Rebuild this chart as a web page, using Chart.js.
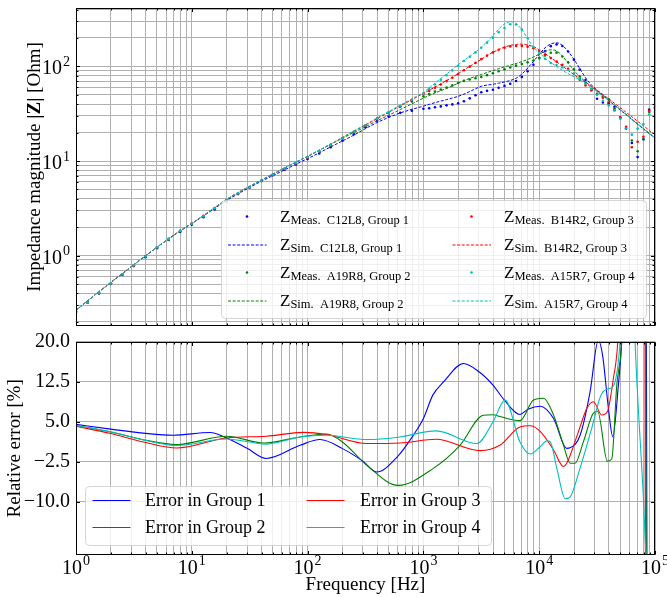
<!DOCTYPE html>
<html>
<head>
<meta charset="utf-8">
<script src="https://cdn.jsdelivr.net/npm/chart.js@4.4.1/dist/chart.umd.min.js"></script>
<style>
  html, body { margin: 0; padding: 0; background: #fff; }
  #wrap { position: relative; width: 667px; height: 597px; overflow: hidden; }
  #top { position: absolute; left: 0; top: 0; }
  #bot { position: absolute; left: 0; top: 330px; }
</style>
</head>
<body>
<div id="wrap">
  <canvas id="top" width="667" height="330"></canvas>
  <canvas id="bot" width="667" height="267"></canvas>
</div>
<script>
// frequency grid of the impedance sweep [Hz]
const freq = [1, 1.26, 1.58, 2, 2.51, 3.16, 3.98, 5.01, 6.31, 7.94,
  10, 12.6, 15.8, 20, 25.1, 31.6, 39.8, 50.1, 63.1, 79.4,
  100, 126, 158, 200, 251, 316, 398, 501, 631, 794,
  1000, 1122, 1259, 1413, 1585, 1778, 1995, 2239, 2512, 2818,
  3162, 3548, 3981, 4467, 5012, 5623, 6310, 7079, 7943, 8913,
  10000, 11220, 12589, 14125, 15849, 17783, 19953, 22387, 25119, 28184,
  31623, 35481, 39811, 44668, 50119, 56234, 63096, 70795, 79433, 89125,
  100000];

// |Z| [Ohm], group 1 (C12L8)
const zMeas1 = [0.253, 0.318, 0.398, 0.50, 0.623, 0.774, 0.96, 1.197, 1.46, 1.775,
  2.12, 2.54, 3.08, 3.74, 4.47, 5.25, 6.18, 7.08, 8.08, 9.17,
  10.47, 12.0, 14.0, 16.4, 19.2, 22.7, 26.6, 29.6, 32.3, 34.1,
  35.7, 36.2, 37.0, 37.8, 38.8, 39.7, 40.7, 42.9, 46.0, 49.6,
  53.3, 55.2, 56.8, 59.5, 62.3, 65.7, 70.1, 77.5, 89, 104,
  123, 145, 164, 171, 164.5, 144, 118, 93, 72, 56,
  45.5, 41.5, 40.7, 37.4, 28.6, 22, 15.5, 11, 17, 35,
  40];
const zSim1 = [0.265, 0.332, 0.415, 0.52, 0.645, 0.80, 0.99, 1.23, 1.50, 1.82,
  2.18, 2.62, 3.17, 3.82, 4.5, 5.25, 6.1, 7.0, 8.05, 9.25,
  10.6, 12.2, 14.1, 16.3, 18.8, 22, 25.5, 28.9, 32.2, 35.2,
  38, 39.7, 41.4, 43, 44.6, 46.3, 48.3, 51, 54.3, 58,
  61.8, 63.5, 64.8, 66.5, 68.5, 71, 75, 83, 96, 113,
  134, 157, 173, 178, 167, 144, 119, 95, 76, 64,
  56, 50, 44, 39, 34.5, 31, 27.5, 24.5, 21.8, 19.5,
  17.5];

// group 2 (A19R8)
const zMeas2 = [0.254, 0.319, 0.402, 0.506, 0.632, 0.788, 0.98, 1.221, 1.49, 1.815,
  2.17, 2.6, 3.15, 3.83, 4.52, 5.29, 6.18, 7.18, 8.28, 9.49,
  10.94, 12.65, 14.63, 17.2, 20.2, 23.7, 28.1, 32.6, 37.5, 42.6,
  48.3, 51.1, 54.2, 57.1, 59.8, 63.0, 66.9, 70.4, 72.8, 74.9,
  77.4, 80.9, 84.8, 89.0, 93.4, 97.4, 102, 106.3, 110.5, 115.3,
  122.6, 130.6, 139.5, 140, 127.5, 110.7, 93.5, 78, 66.9, 57.3,
  51.2, 48, 45, 35.9, 28.7, 22.3, 16.5, 12.7, 17, 33,
  36];
const zSim2 = [0.265, 0.332, 0.415, 0.52, 0.645, 0.80, 0.99, 1.23, 1.50, 1.83,
  2.19, 2.64, 3.22, 3.92, 4.62, 5.38, 6.25, 7.25, 8.4, 9.7,
  11.2, 13.0, 15.0, 17.4, 20.0, 23.0, 26.6, 30.5, 35, 40.2,
  46.2, 49.3, 52.3, 55.4, 58.6, 62.2, 66.5, 71, 74.7, 78.4,
  82.3, 86.3, 90.4, 94.7, 99, 103, 107.5, 112.5, 118.5, 126,
  135, 144, 150, 146, 129, 108, 91, 78, 69, 61,
  55, 49, 44, 39, 35, 31.2, 27.8, 24.8, 22.1, 19.7,
  17.6];

// group 3 (B14R2)
const zMeas3 = [0.254, 0.32, 0.402, 0.506, 0.631, 0.787, 0.98, 1.224, 1.5, 1.83,
  2.18, 2.63, 3.18, 3.85, 4.54, 5.28, 6.14, 7.11, 8.2, 9.46,
  10.86, 12.66, 14.8, 17.47, 20.4, 23.8, 27.75, 32.4, 37.8, 44.0,
  51.2, 55.1, 59.5, 64.5, 70.0, 76, 83, 91, 99.5, 109,
  119.5, 130.3, 140.8, 150.3, 158, 163, 164.5, 164.8, 161.9, 155.5,
  145.5, 134, 123, 112.5, 104, 94.5, 83.5, 72.5, 63, 56.5,
  51.5, 46.8, 42, 34.5, 29, 23, 14, 16, 18, 34,
  37];
const zSim3 = [0.265, 0.332, 0.415, 0.52, 0.645, 0.80, 0.99, 1.23, 1.50, 1.83,
  2.19, 2.65, 3.23, 3.93, 4.64, 5.4, 6.28, 7.28, 8.44, 9.75,
  11.2, 13.0, 15.1, 17.7, 20.6, 24.0, 28.0, 32.7, 38.2, 44.5,
  52, 56, 60.5, 65.5, 71, 77, 84, 92, 100, 109,
  119, 130, 141, 151, 160, 167, 171, 172, 169, 162,
  150, 137, 124, 112, 101, 91, 82, 74.5, 68, 62,
  56, 50.5, 45.5, 40.8, 36.6, 32.8, 29.4, 26.3, 23.6, 21.1,
  19];

// group 4 (A15R7)
const zMeas4 = [0.254, 0.319, 0.402, 0.506, 0.632, 0.788, 0.981, 1.222, 1.492, 1.82,
  2.17, 2.61, 3.17, 3.86, 4.55, 5.3, 6.2, 7.2, 8.28, 9.52,
  10.95, 12.7, 14.75, 17.3, 20.4, 23.9, 28.0, 32.6, 38.2, 44.4,
  51.4, 57.6, 64.4, 72.2, 80.6, 90.7, 101.8, 114, 126.6, 140.7,
  157.6, 178.5, 201.5, 230.6, 254.8, 279, 278, 245, 200, 160.8,
  139.6, 120.5, 108.7, 103.5, 97.4, 91.8, 83.5, 74.7, 66, 57.8,
  50.2, 43.4, 38.6, 34.3, 28, 22, 19, 22, 24.6, 31,
  33];
const zSim4 = [0.265, 0.332, 0.415, 0.52, 0.645, 0.80, 0.99, 1.23, 1.50, 1.83,
  2.19, 2.65, 3.23, 3.93, 4.64, 5.4, 6.28, 7.28, 8.44, 9.75,
  11.2, 13.0, 15.1, 17.7, 20.8, 24.3, 28.5, 33.3, 39.0, 45.5,
  53, 59.5, 66.5, 74.5, 83, 93, 104, 116, 128, 142,
  160, 183, 212, 248, 280, 297, 285, 245, 198, 160,
  140, 122, 110, 100, 91, 84, 78, 72, 66, 60,
  54, 48.5, 43.5, 39, 35, 31, 27.5, 24.5, 22, 19.5,
  17.5];

// relative error [%] per group
const errFreq1 = [1, 2, 4, 6.9, 14.4, 20, 30, 44, 86, 128, 200, 300, 395, 600, 818, 1000, 1205, 1500,
  2220, 3000, 3990, 5000, 6820, 8000, 10200, 13300, 17300, 18500, 22600, 27500, 32400, 35400,
  39600, 43200, 48300, 51600, 56000, 83500, 86000, 100000];
const err1 = [4.5, 3.6, 2.8, 2.46, 2.97, 1.95, 0.0, -1.9, 0.58, 1.65, -0.05, -2.4, -4.44, -1.5, 2.46, 5.6, 9.98, 12.5,
  15.9, 14.4, 11.86, 9.04, 6.35, 7.35, 7.9, 5.6, 0.0, 0.1, 2.5, 10.6, 20.3, 17.2,
  7.5, 2.2, 11.9, 20, 40, 40, -40, -40];

const errFreq2 = [1, 2, 4, 7.4, 20, 42, 86, 146, 200, 325, 607, 1210, 2070, 3290, 4000, 4570, 6820,
  8940, 10900, 13300, 16200, 18500, 20400, 24100, 29400, 32000, 38800, 42300, 46800, 51600,
  56000, 82500, 84500, 100000];
const err2 = [4.3, 3.08, 1.52, 0.71, 2.27, 1.0, 2.14, 2.7, 1.2, -3.2, -6.94, -3.8, 0.58, 6.2, 6.3, 5.97, 5.2,
  9.06, 9.4, 6.25, 0.6, -2.8, -2.8, 1.25, 6.6, 6.9, -2.4, -2.0, 11.9, 20,
  40, 40, -40, -40];

const errFreq3 = [1, 2, 4, 7.4, 20, 44, 92, 146, 325, 627, 1290, 3090, 4570, 6820, 8360, 10200, 13300,
  16200, 17300, 21800, 25800, 29400, 34700, 38800, 43700, 47700, 52000, 81500, 83000, 100000];
const err3 = [4.15, 2.77, 1.1, 0.07, 1.95, 2.27, 3.0, 2.6, 0.9, 1.0, 1.7, -0.42, 0.58, 4.02, 4.25, 3.2, -0.3,
  -3.4, -2.8, 3.1, 7.5, 8.75, 6.25, 6.9, 13.1, 20, 40, 40, -40, -40];

const errFreq4 = [1, 2, 4, 7.4, 20, 44, 86, 146, 325, 627, 1290, 2890, 3990, 5070, 6820, 8360, 10200,
  11640, 12440, 14200, 16750, 18200, 22500, 28400, 34700, 40900, 44300, 49900, 55000, 63000,
  67300, 79300, 83600, 100000];
const err4 = [4.3, 3.1, 1.5, 0.53, 1.76, 0.8, 2.14, 2.45, 1.65, 2.14, 3.27, 0.9, 4.96, 9.04, 1.2, -1.06, 0.3,
  1.4, 1.25, -3.75, -9.4, -9.25, -3.75, 3.75, 10.3, 11.25, 11.9, 20, 40, 40,
  20, -9.1, -20, -40];

const errTicks = [-10, -2.5, 5, 12.5, 20];
const zSubs = ["Meas.  C12L8, Group 1", "Sim.  C12L8, Group 1", "Meas.  A19R8, Group 2", "Sim.  A19R8, Group 2",
  "Meas.  B14R2, Group 3", "Sim.  B14R2, Group 3", "Meas.  A15R7, Group 4", "Sim.  A15R7, Group 4"];
const errLabels = ["Error in Group 1", "Error in Group 2", "Error in Group 3", "Error in Group 4"];

const FONT = '"Liberation Serif", "Times New Roman", serif';
const GRID = "#b0b0b0";
const COLORS = ["#0000ff", "#008000", "#ff0000", "#00bfbf"];
Chart.defaults.font.family = FONT;

function pairs(xs, ys) {
  return xs.map((x, i) => ({ x: x, y: ys[i] }));
}

function logGrid(lo, hi) {
  const out = [];
  for (let e = -1; e <= 5; e++) {
    for (let m = 1; m <= 9; m++) {
      const v = +(m * Math.pow(10, e)).toPrecision(6);
      if (v >= lo && v <= hi) out.push(v);
    }
  }
  return out;
}

const xGrid = logGrid(1, 1e5);
const yGridTop = logGrid(0.18, 415);

function isPow10(v) {
  const l = Math.log10(v);
  return Math.abs(l - Math.round(l)) < 1e-9;
}

function frame(ctx, a, xs, ys, xVals, yVals) {
  ctx.save();
  ctx.strokeStyle = "#000";
  ctx.lineWidth = 1;
  const L = Math.round(a.left) + 0.5, R = Math.round(a.right) - 0.5;
  const T = Math.round(a.top) + 0.5, B = Math.round(a.bottom) - 0.5;
  ctx.beginPath();
  xVals.forEach((v) => {
    const x = Math.round(xs.getPixelForValue(v)) + 0.5;
    const len = isPow10(v) ? 3.5 : 2;
    ctx.moveTo(x, B); ctx.lineTo(x, B - len);
    ctx.moveTo(x, T); ctx.lineTo(x, T + len);
  });
  yVals.forEach((v) => {
    const y = Math.round(ys.getPixelForValue(v)) + 0.5;
    const len = ys.type === "logarithmic" && !isPow10(v) ? 2 : 3.5;
    ctx.moveTo(L, y); ctx.lineTo(L + len, y);
    ctx.moveTo(R, y); ctx.lineTo(R - len, y);
  });
  ctx.stroke();
  ctx.strokeRect(L, T, R - L, B - T);
  ctx.restore();
}

function powLabel(ctx, e, x, y, align) {
  ctx.save();
  ctx.fillStyle = "#000";
  ctx.textBaseline = "alphabetic";
  ctx.textAlign = "left";
  ctx.font = "20px " + FONT;
  const wb = ctx.measureText("10").width;
  ctx.font = "14px " + FONT;
  const we = ctx.measureText(String(e)).width;
  const w = wb + we + 1;
  const x0 = align === "right" ? x - w : x - w / 2;
  ctx.font = "20px " + FONT;
  ctx.fillText("10", x0, y);
  ctx.font = "14px " + FONT;
  ctx.fillText(String(e), x0 + wb + 1, y - 8.5);
  ctx.restore();
}

// rotated axis title made of [text, bold] parts
function vTitle(ctx, parts, x, y) {
  ctx.save();
  ctx.translate(x, y);
  ctx.rotate(-Math.PI / 2);
  ctx.fillStyle = "#000";
  ctx.textAlign = "left";
  ctx.textBaseline = "middle";
  let total = 0;
  parts.forEach((p) => {
    ctx.font = (p[1] ? "bold " : "") + "19px " + FONT;
    total += ctx.measureText(p[0]).width;
  });
  let cx = -total / 2;
  parts.forEach((p) => {
    ctx.font = (p[1] ? "bold " : "") + "19px " + FONT;
    ctx.fillText(p[0], cx, 0);
    cx += ctx.measureText(p[0]).width;
  });
  ctx.restore();
}

function legendBox(ctx, x, y, w, h) {
  ctx.save();
  ctx.beginPath();
  ctx.roundRect(x, y, w, h, 4);
  ctx.fillStyle = "rgba(255,255,255,0.8)";
  ctx.fill();
  ctx.strokeStyle = "rgba(204,204,204,0.8)";
  ctx.lineWidth = 1;
  ctx.stroke();
  ctx.restore();
}

const decorTop = {
  id: "decorTop",
  afterDraw(chart) {
    const ctx = chart.ctx, a = chart.chartArea;
    const xs = chart.scales.x, ys = chart.scales.y;
    frame(ctx, a, xs, ys, xGrid, yGridTop);
    [0, 1, 2].forEach((e) => {
      powLabel(ctx, e, a.left - 6, ys.getPixelForValue(Math.pow(10, e)) + 8, "right");
    });
    vTitle(ctx, [["Impedance magnitude ", false], ["|Z|", true], [" [Ohm]", false]], 35, (a.top + a.bottom) / 2);

    legendBox(ctx, 221.5, 200.5, 425, 118);
    zSubs.forEach((sub, i) => {
      const col = i < 4 ? 0 : 1;
      const row = i % 4;
      const color = COLORS[Math.floor(i / 2)];
      const hx = col ? 452.5 : 228;
      const y = 216.5 + row * 28;
      ctx.save();
      if (i % 2 === 0) {
        ctx.fillStyle = color;
        ctx.beginPath();
        ctx.arc(hx + 19, y, 1.3, 0, Math.PI * 2);
        ctx.fill();
      } else {
        ctx.strokeStyle = color;
        ctx.lineWidth = 1;
        ctx.setLineDash([3, 1.6]);
        ctx.beginPath();
        ctx.moveTo(hx, y + 0.5);
        ctx.lineTo(hx + 38.5, y + 0.5);
        ctx.stroke();
      }
      ctx.restore();
      const tx = col ? 504 : 280;
      ctx.save();
      ctx.fillStyle = "#000";
      ctx.textBaseline = "alphabetic";
      ctx.textAlign = "left";
      ctx.font = "17px " + FONT;
      ctx.fillText("Z", tx, y + 5);
      const wz = ctx.measureText("Z").width;
      ctx.font = "12.5px " + FONT;
      ctx.fillText(sub, tx + wz, y + 7.5);
      ctx.restore();
    });
  },
};

const decorBot = {
  id: "decorBot",
  afterDraw(chart) {
    const ctx = chart.ctx, a = chart.chartArea;
    const xs = chart.scales.x, ys = chart.scales.y;
    frame(ctx, a, xs, ys, xGrid, errTicks);
    for (let e = 0; e <= 5; e++) {
      powLabel(ctx, e, xs.getPixelForValue(Math.pow(10, e)), a.bottom + 18.5, "center");
    }
    ctx.save();
    ctx.font = "19px " + FONT;
    ctx.fillStyle = "#000";
    ctx.textAlign = "center";
    ctx.textBaseline = "middle";
    ctx.fillText("Frequency [Hz]", (a.left + a.right) / 2, 255);
    ctx.restore();
    vTitle(ctx, [["Relative error [%]", false]], 15, (a.top + a.bottom) / 2);

    legendBox(ctx, 85.5, 156.5, 406, 59);
    errLabels.forEach((lab, i) => {
      const col = i < 2 ? 0 : 1;
      const y = 170.5 + (i % 2) * 27;
      const hx = col ? 306.5 : 92.5;
      ctx.save();
      ctx.strokeStyle = COLORS[i];
      ctx.lineWidth = 1.1;
      ctx.beginPath();
      ctx.moveTo(hx, y);
      ctx.lineTo(hx + 38, y);
      ctx.stroke();
      ctx.font = "18px " + FONT;
      ctx.fillStyle = "#000";
      ctx.textAlign = "left";
      ctx.textBaseline = "middle";
      ctx.fillText(lab, col ? 360 : 145, y + 1);
      ctx.restore();
    });
  },
};

const meas = [zMeas1, zMeas2, zMeas3, zMeas4];
const sims = [zSim1, zSim2, zSim3, zSim4];
const topSets = [];
meas.forEach((m, i) => {
  topSets.push({
    data: pairs(freq, m),
    showLine: false,
    pointRadius: 1.3,
    pointBackgroundColor: COLORS[i],
    pointBorderWidth: 0,
    order: 8 - 2 * i,
  });
  topSets.push({
    data: pairs(freq, sims[i]),
    showLine: true,
    borderColor: COLORS[i],
    borderWidth: 1,
    borderDash: [3, 1.6],
    pointRadius: 0,
    cubicInterpolationMode: "monotone",
    order: 7 - 2 * i,
  });
});

const errF = [errFreq1, errFreq2, errFreq3, errFreq4];
const errV = [err1, err2, err3, err4];
const botSets = errV.map((v, i) => ({
  data: pairs(errF[i], v),
  showLine: true,
  borderColor: COLORS[i],
  borderWidth: 1.1,
  pointRadius: 0,
  cubicInterpolationMode: "monotone",
  order: 4 - i,
}));

function logAxis(min, max, grid, fitKey, fitVal) {
  return {
    type: "logarithmic",
    min: min,
    max: max,
    afterBuildTicks: (s) => { s.ticks = grid.map((v) => ({ value: v })); },
    afterFit: (s) => { s[fitKey] = fitVal; s.paddingTop = 0; s.paddingBottom = 0; s.paddingLeft = 0; s.paddingRight = 0; },
    ticks: { display: false },
    grid: { color: GRID, lineWidth: 1, drawTicks: false },
    border: { display: false },
  };
}

new Chart(document.getElementById("top"), {
  type: "scatter",
  data: { datasets: topSets },
  options: {
    responsive: false,
    animation: false,
    events: [],
    layout: { padding: { left: 0, right: 12, top: 8, bottom: 2.5 } },
    plugins: { legend: { display: false }, tooltip: { enabled: false } },
    scales: {
      x: logAxis(1, 1e5, xGrid, "height", 0),
      y: logAxis(0.18, 415, yGridTop, "width", 76),
    },
  },
  plugins: [decorTop],
});

new Chart(document.getElementById("bot"), {
  type: "scatter",
  data: { datasets: botSets },
  options: {
    responsive: false,
    animation: false,
    events: [],
    layout: { padding: { left: 0, right: 12, top: 11.7, bottom: 0 } },
    plugins: { legend: { display: false }, tooltip: { enabled: false } },
    scales: {
      x: logAxis(1, 1e5, xGrid, "height", 42),
      y: {
        type: "linear",
        min: -20,
        max: 20,
        afterBuildTicks: (s) => { s.ticks = errTicks.map((v) => ({ value: v })); },
        afterFit: (s) => { s.width = 76; s.paddingTop = 0; s.paddingBottom = 0; },
        ticks: {
          color: "#000",
          padding: 6,
          font: { size: 20, family: FONT },
          callback: (v) => (v < 0 ? "\u2212" : "") + Math.abs(v).toFixed(1),
        },
        grid: { color: GRID, lineWidth: 1, drawTicks: false },
        border: { display: false },
      },
    },
  },
  plugins: [decorBot],
});
</script>
</body>
</html>
